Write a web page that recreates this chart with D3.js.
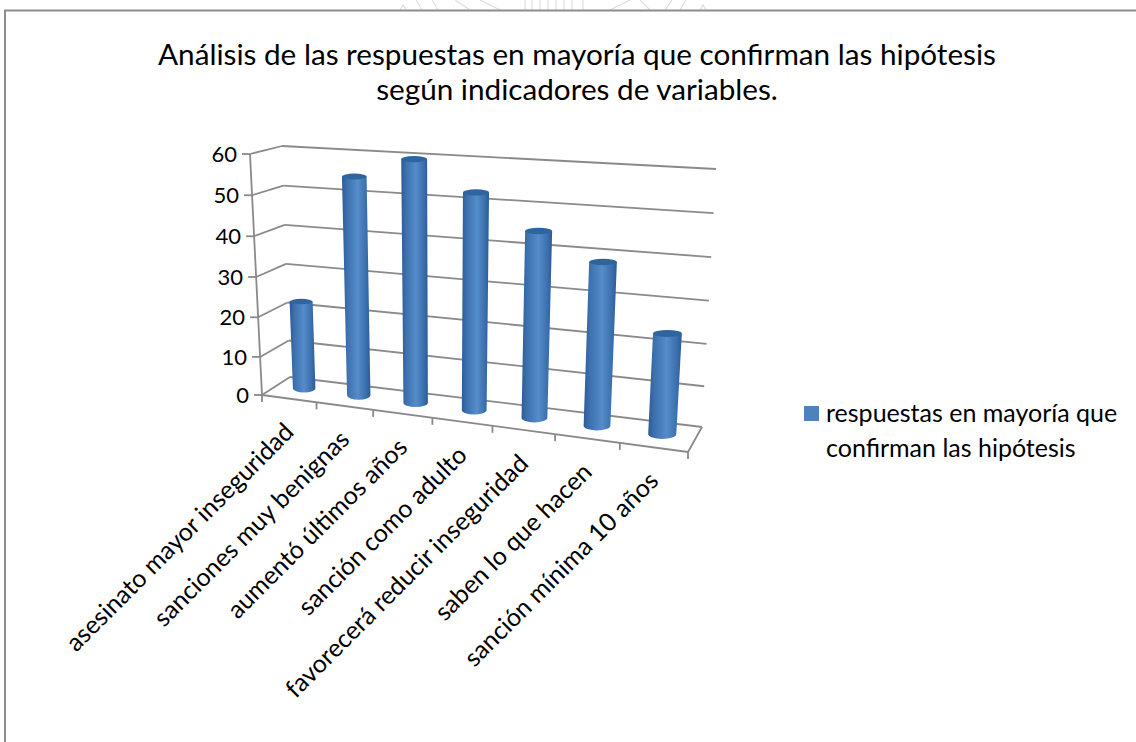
<!DOCTYPE html>
<html>
<head>
<meta charset="utf-8">
<script src="https://cdnjs.cloudflare.com/ajax/libs/d3/7.8.5/d3.min.js"></script>
<style>
	body { margin: 0; background: #fff; }
	text { font-family: Lato, "Open Sans", sans-serif; fill: #000; }
</style>
</head>
<body>
<svg id="chart" width="1136" height="742"></svg>
<script>
"use strict";

const categories = [
	"asesinato mayor inseguridad",
	"sanciones muy benignas",
	"aumentó últimos años",
	"sanción como adulto",
	"favorecerá reducir inseguridad",
	"saben lo que hacen",
	"sanción mínima 10 años"
];
const values = [23, 55, 60, 53, 45, 39, 24];
const yTicks = [0, 10, 20, 30, 40, 50, 60];
const seriesName = ["respuestas en mayoría que", "confirman las hipótesis"];
const titleLines = [
	"Análisis de las respuestas en mayoría que confirman las hipótesis",
	"según indicadores de variables."
];

const svg = d3.select("#chart");

// corners of the 3d box, as seen in the picture
const frontLeft = {x0: 262, y0: 395, x1: 250, y1: 154};
const frontRight = {x0: 688, y0: 452, x1: 705, y1: 180};
const backLeft = {x0: 290, y0: 377, x1: 282, y1: 146};
const backRight = {x0: 702, y0: 427, x1: 716, y1: 169};

// perspective is faked with bent scales, tick spacing grows to the right
const tScale = d3.scaleLinear()
	.domain(d3.range(categories.length + 1))
	.range([0, .128, .261, .40, .541, .688, .84, 1]);
const vScale = d3.scalePow().exponent(1.03).domain([0, 60]).range([0, 1]);
const lerp = (a, b, t) => a + (b - a) * t;

// pos = category units along the floor, depth 0 front .. 1 back, v = axis value
function project(pos, depth, v) {
	let t = tScale(pos), f = vScale(v);
	let edge = (l, r) => ({
		x: lerp(lerp(l.x0, l.x1, f), lerp(r.x0, r.x1, f), t),
		y: lerp(lerp(l.y0, l.y1, f), lerp(r.y0, r.y1, f), t)
	});
	let front = edge(frontLeft, frontRight), back = edge(backLeft, backRight);
	return {x: lerp(front.x, back.x, depth), y: lerp(front.y, back.y, depth)};
}

const gridColor = "#8a8a8a";

// faint stamp showing through above the frame
svg.append("path")
	.attr("d", "M400,10L403,5L406,10M422,10L416,0M438,10L432,0M455,0L470,10M500,10L480,0" +
		"M525,10V0M532,10V0M540,10V0M548,10V0M556,10V0M564,10V0M572,10V0M583,10V0" +
		"M610,10L630,0M650,10L640,0M665,10L672,0M680,10L686,0M700,10L703,5L706,10")
	.attr("fill", "none")
	.attr("stroke", "#dedede")
	.attr("stroke-width", 1.2);

// chart frame, only left and top show in the crop
svg.append("path")
	.attr("d", "M5,742V10.5H1136")
	.attr("fill", "none")
	.attr("stroke", "#8e8e8e")
	.attr("stroke-width", 2);

// title
svg.selectAll(".title")
	.data(titleLines)
	.enter().append("text")
	.attr("class", "title")
	.attr("x", 577)
	.attr("y", (d, i) => 65 + i * 35)
	.attr("text-anchor", "middle")
	.style("font-size", "29.7px")
	.text(d => d);

let line = (a, b) => svg.append("line")
	.attr("x1", a.x).attr("y1", a.y).attr("x2", b.x).attr("y2", b.y)
	.attr("stroke", gridColor).attr("stroke-width", 1.8);

const nCat = categories.length;

// walls: gridlines on the back and side wall, plus the vertical axis
yTicks.forEach(v => {
	if (v > 0) line(project(0, 1, v), project(nCat, 1, v));
	line(project(0, 0, v), project(0, 1, v));
	line(project(0, 0, v), {x: project(0, 0, v).x - 8, y: project(0, 0, v).y});
});
line(project(0, 0, 0), project(0, 0, 60));
line(project(0, 1, 0), project(nCat, 1, 0));
line(project(nCat, 0, 0), project(nCat, 1, 0));
line(project(0, 0, 0), project(nCat, 0, 0));

// category ticks along the floor
d3.range(nCat + 1).forEach(i => {
	let p = project(i, 0, 0);
	line(p, {x: p.x, y: p.y + 7});
});

// y labels
svg.selectAll(".ylab")
	.data(yTicks)
	.enter().append("text")
	.attr("class", "ylab")
	.attr("x", d => project(0, 0, d).x - 13)
	.attr("y", d => project(0, 0, d).y + 8)
	.attr("text-anchor", "end")
	.style("font-size", "22px")
	.text(d => d);

// x labels
svg.selectAll(".xlab")
	.data(categories)
	.enter().append("text")
	.attr("class", "xlab")
	.attr("text-anchor", "end")
	.attr("transform", (d, i) => {
		let p = project(i + 0.5, 0, 0);
		return `translate(${p.x + 6},${p.y + 35}) rotate(-45)`;
	})
	.style("font-size", "25px")
	.text(d => d);

// cylinder shading
let defs = svg.append("defs");
let grad = defs.append("linearGradient").attr("id", "cyl");
grad.append("stop").attr("offset", "0%").attr("stop-color", "#2c5c96");
grad.append("stop").attr("offset", "18%").attr("stop-color", "#3c70ae");
grad.append("stop").attr("offset", "55%").attr("stop-color", "#568cca");
grad.append("stop").attr("offset", "85%").attr("stop-color", "#3b6fae");
grad.append("stop").attr("offset", "100%").attr("stop-color", "#2b5a92");

const barDepth = 0.55;
const barWidth = 0.21;

let bars = svg.selectAll(".bar")
	.data(values)
	.enter().append("g")
	.attr("class", "bar")
	.each(function(v, i) {
		let g = d3.select(this);
		let b = project(i + 0.5, barDepth, 0), t = project(i + 0.5, barDepth, v);
		let rb = project(i + 0.5 + barWidth, barDepth, 0).x - b.x;
		let rt = project(i + 0.5 + barWidth, barDepth, v).x - t.x;
		let ryb = rb * 0.36, ryt = rt * 0.24;
		let topY = t.y + 1.5;
		g.append("path")
			.attr("fill", "url(#cyl)")
			.attr("d", `M${t.x - rt},${topY}L${t.x + rt},${topY}L${b.x + rb},${b.y}` +
				`A${rb},${ryb} 0 0 1 ${b.x - rb},${b.y}Z`);
		g.append("ellipse")
			.attr("cx", t.x).attr("cy", topY)
			.attr("rx", rt).attr("ry", ryt)
			.attr("fill", "#2f659f");
	});

// legend
svg.append("rect")
	.attr("x", 804).attr("y", 406)
	.attr("width", 15).attr("height", 15)
	.attr("fill", "#4f81bd");
svg.selectAll(".legend")
	.data(seriesName)
	.enter().append("text")
	.attr("class", "legend")
	.attr("x", 826)
	.attr("y", (d, i) => 422 + i * 35)
	.style("font-size", "25px")
	.text(d => d);
</script>
</body>
</html>
